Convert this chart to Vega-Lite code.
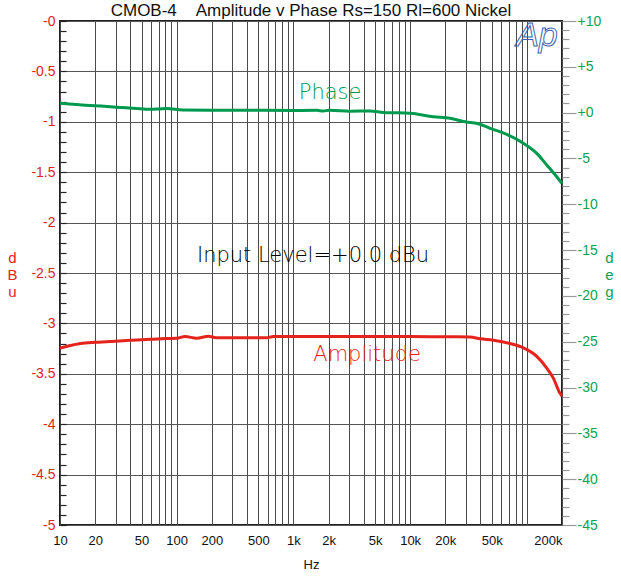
{
  "$schema": "https://vega.github.io/schema/vega-lite/v6.json",
  "width": 502,
  "height": 504,
  "autosize": "none",
  "padding": {"left": 60, "top": 21, "right": 59, "bottom": 57},
  "background": "white",
  "title": {
    "text": "CMOB-4\u00a0\u00a0\u00a0\u00a0Amplitude v Phase Rs=150 Rl=600 Nickel",
    "font": "Liberation Sans",
    "fontSize": 17,
    "fontWeight": "normal",
    "color": "#111",
    "anchor": "middle",
    "offset": -6
  },
  "config": {
    "view": {"stroke": "#222", "strokeWidth": 2},
    "axis": {"domain": false, "labelFont": "Liberation Sans", "titleFont": "Liberation Sans", "titleFontWeight": "normal"}
  },
  "datasets": {
    "amp": [
      {"freq": 10, "dBu": -3.245},
      {"freq": 12, "dBu": -3.222},
      {"freq": 15, "dBu": -3.2},
      {"freq": 20, "dBu": -3.188},
      {"freq": 25, "dBu": -3.182},
      {"freq": 30, "dBu": -3.177},
      {"freq": 40, "dBu": -3.168},
      {"freq": 50, "dBu": -3.162},
      {"freq": 60, "dBu": -3.158},
      {"freq": 80, "dBu": -3.15},
      {"freq": 100, "dBu": -3.147},
      {"freq": 118, "dBu": -3.13},
      {"freq": 148, "dBu": -3.147},
      {"freq": 187, "dBu": -3.128},
      {"freq": 217, "dBu": -3.143},
      {"freq": 350, "dBu": -3.143},
      {"freq": 590, "dBu": -3.143},
      {"freq": 673, "dBu": -3.13},
      {"freq": 1000, "dBu": -3.13},
      {"freq": 3000, "dBu": -3.13},
      {"freq": 10000, "dBu": -3.131},
      {"freq": 25000, "dBu": -3.132},
      {"freq": 32600, "dBu": -3.134},
      {"freq": 39700, "dBu": -3.153},
      {"freq": 51600, "dBu": -3.167},
      {"freq": 71800, "dBu": -3.2},
      {"freq": 93400, "dBu": -3.243},
      {"freq": 121600, "dBu": -3.327},
      {"freq": 148000, "dBu": -3.443},
      {"freq": 168600, "dBu": -3.543},
      {"freq": 192000, "dBu": -3.693},
      {"freq": 200000, "dBu": -3.72}
    ],
    "phase": [
      {"freq": 10, "deg": 1.02},
      {"freq": 12, "deg": 0.93},
      {"freq": 15.8, "deg": 0.83},
      {"freq": 20, "deg": 0.75},
      {"freq": 30.6, "deg": 0.6},
      {"freq": 45, "deg": 0.45},
      {"freq": 59, "deg": 0.36},
      {"freq": 70, "deg": 0.4},
      {"freq": 82, "deg": 0.46},
      {"freq": 113, "deg": 0.29},
      {"freq": 200, "deg": 0.27},
      {"freq": 425, "deg": 0.26},
      {"freq": 1000, "deg": 0.23},
      {"freq": 1585, "deg": 0.25},
      {"freq": 1800, "deg": 0.18},
      {"freq": 2030, "deg": 0.26},
      {"freq": 3055, "deg": 0.16},
      {"freq": 4530, "deg": 0.18},
      {"freq": 5890, "deg": 0.02},
      {"freq": 9980, "deg": -0.07},
      {"freq": 15800, "deg": -0.44},
      {"freq": 22000, "deg": -0.62},
      {"freq": 29500, "deg": -0.99},
      {"freq": 39700, "deg": -1.27},
      {"freq": 48400, "deg": -1.71},
      {"freq": 67300, "deg": -2.37},
      {"freq": 93400, "deg": -3.35},
      {"freq": 121600, "deg": -4.44},
      {"freq": 148000, "deg": -5.71},
      {"freq": 180000, "deg": -6.99},
      {"freq": 200000, "deg": -7.71}
    ]
  },
  "layer": [
    {
      "layer": [
        {
          "data": {"name": "amp"},
          "mark": {"type": "line", "color": "#e3231c", "strokeWidth": 3, "interpolate": "monotone"},
          "encoding": {
            "x": {
              "field": "freq", "type": "quantitative",
              "scale": {"type": "log", "domain": [10, 200000], "nice": false},
              "axis": {
                "orient": "bottom",
                "values": [10,20,30,40,50,60,70,80,90,100,200,300,400,500,600,700,800,900,1000,2000,3000,4000,5000,6000,7000,8000,9000,10000,20000,30000,40000,50000,60000,70000,80000,90000,100000,200000],
                "tickCount": 200,
                "grid": true, "gridColor": "#4a4a4a", "gridWidth": 1,
                "ticks": false,
                "labelExpr": "indexof([10,20,50,100,200,500,1000,2000,5000,10000,20000,50000,200000], datum.value) >= 0 ? (datum.value >= 1000 ? (datum.value/1000) + 'k' : '' + datum.value) : ''",
                "labelAlign": {"condition": {"test": "datum.value >= 199999", "value": "right"}, "value": "center"},
                "labelOverlap": false, "labelBound": false, "labelFlush": false,
                "labelFontSize": 13, "labelColor": "#111", "labelPadding": 9,
                "title": "Hz", "titleFontSize": 13, "titleColor": "#111", "titlePadding": 11
              }
            },
            "y": {
              "field": "dBu", "type": "quantitative",
              "scale": {"domain": [-5, 0], "nice": false, "zero": false},
              "axis": {
                "orient": "left",
                "values": [0,-0.1,-0.2,-0.3,-0.4,-0.5,-0.6,-0.7,-0.8,-0.9,-1,-1.1,-1.2,-1.3,-1.4,-1.5,-1.6,-1.7,-1.8,-1.9,-2,-2.1,-2.2,-2.3,-2.4,-2.5,-2.6,-2.7,-2.8,-2.9,-3,-3.1,-3.2,-3.3,-3.4,-3.5,-3.6,-3.7,-3.8,-3.9,-4,-4.1,-4.2,-4.3,-4.4,-4.5,-4.6,-4.7,-4.8,-4.9,-5],
                "tickCount": 200,
                "grid": true, "gridColor": "#555", "gridWidth": 1.2,
                "gridOpacity": {"condition": {"test": "abs(datum.value*2 - round(datum.value*2)) < 0.001", "value": 1}, "value": 0},
                "ticks": true, "tickSize": -6, "tickColor": "#222", "tickWidth": 1.2,
                "labelExpr": "abs(datum.value*2 - round(datum.value*2)) < 0.001 ? '-' + format(abs(datum.value), '.1~f') : ''",
                "labelOverlap": false, "labelBound": false, "labelFlush": false,
                "labelFontSize": 14, "labelColor": "#e3231c", "labelPadding": 11,
                "title": ["d", "B", "u"], "titleAngle": 0, "titleX": -48, "titleY": 236,
                "titleAlign": "center", "titleBaseline": "middle", "titleLineHeight": 17,
                "titleFontSize": 15, "titleColor": "#e3231c"
              }
            }
          }
        },
        {
          "data": {"values": [{"freq": 1472, "dBu": -2.331, "label": "Input Level=+0.0 dBu"}]},
          "mark": {"type": "text", "font": "DejaVu Sans", "fontSize": 21, "fontWeight": 200, "color": "#000", "align": "center", "baseline": "middle"},
          "encoding": {
            "x": {"field": "freq", "type": "quantitative"},
            "y": {"field": "dBu", "type": "quantitative"},
            "text": {"field": "label"}
          }
        },
        {
          "data": {"values": [{"freq": 4275, "dBu": -3.313, "label": "Amplitude"}]},
          "mark": {"type": "text", "font": "DejaVu Sans", "fontSize": 21, "fontWeight": 200, "color": "#e3231c", "align": "center", "baseline": "middle"},
          "encoding": {
            "x": {"field": "freq", "type": "quantitative"},
            "y": {"field": "dBu", "type": "quantitative"},
            "text": {"field": "label"}
          }
        },
        {
          "data": {"values": [{"freq": 122000, "dBu": -0.15, "label": "Ap"}]},
          "mark": {"type": "text", "font": "Liberation Sans", "fontSize": 34, "fontStyle": "italic", "fill": "white", "fillOpacity": 0, "stroke": "#3d5fae", "strokeWidth": 1, "align": "center", "baseline": "middle"},
          "encoding": {
            "x": {"field": "freq", "type": "quantitative"},
            "y": {"field": "dBu", "type": "quantitative"},
            "text": {"field": "label"}
          }
        }
      ]
    },
    {
      "layer": [
        {
          "data": {"name": "phase"},
          "mark": {"type": "line", "color": "#009a4e", "strokeWidth": 3, "interpolate": "monotone"},
          "encoding": {
            "x": {"field": "freq", "type": "quantitative"},
            "y": {
              "field": "deg", "type": "quantitative",
              "scale": {"domain": [-45, 10], "nice": false, "zero": false},
              "axis": {
                "orient": "right",
                "values": [10,9,8,7,6,5,4,3,2,1,0,-1,-2,-3,-4,-5,-6,-7,-8,-9,-10,-11,-12,-13,-14,-15,-16,-17,-18,-19,-20,-21,-22,-23,-24,-25,-26,-27,-28,-29,-30,-31,-32,-33,-34,-35,-36,-37,-38,-39,-40,-41,-42,-43,-44,-45],
                "tickCount": 200,
                "grid": false,
                "ticks": true, "tickColor": "#9a9a9a", "tickWidth": 1.2,
                "tickSize": {"condition": {"test": "datum.value % 5 == 0", "value": 14}, "value": 7},
                "labelExpr": "datum.value % 5 == 0 ? (datum.value >= 0 ? '+' + datum.value : '-' + abs(datum.value)) : ''",
                "labelOverlap": false, "labelBound": false, "labelFlush": false,
                "labelFontSize": 14, "labelColor": "#10a050", "labelPadding": 1,
                "title": ["d", "e", "g"], "titleAngle": 0, "titleX": 47, "titleY": 236,
                "titleAlign": "center", "titleBaseline": "middle", "titleLineHeight": 17,
                "titleFontSize": 15, "titleColor": "#10a050"
              }
            }
          }
        },
        {
          "data": {"values": [{"freq": 2060, "deg": 2.14, "label": "Phase"}]},
          "mark": {"type": "text", "font": "DejaVu Sans", "fontSize": 21, "fontWeight": 200, "color": "#009a4e", "align": "center", "baseline": "middle"},
          "encoding": {
            "x": {"field": "freq", "type": "quantitative"},
            "y": {"field": "deg", "type": "quantitative"},
            "text": {"field": "label"}
          }
        }
      ]
    }
  ],
  "resolve": {"scale": {"y": "independent"}}
}
